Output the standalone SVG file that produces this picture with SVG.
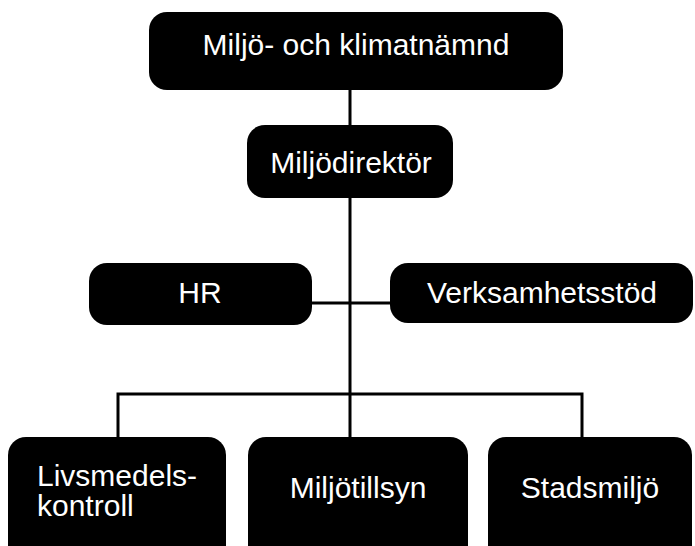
<svg xmlns="http://www.w3.org/2000/svg" width="695" height="546" viewBox="0 0 695 546">
<style>
.box{fill:#000;}
.t{fill:#fff;font-family:"Liberation Sans",Arial,sans-serif;font-size:30px;}
.m{text-anchor:middle;}
.c{stroke:#000;stroke-width:3;fill:none;}
</style>
<rect width="695" height="546" fill="#fff"/>
<g id="connectors">
<path class="c" d="M350 90 V437"/>
<path class="c" d="M312 303 H390"/>
<path class="c" d="M118 437 V394 H582 V437"/>
</g>
<g id="n1"><rect class="box" x="149" y="12" width="414" height="78" rx="18"/><text class="t m" x="356" y="55">Miljö- och klimatnämnd</text></g>
<g id="n2"><rect class="box" x="247" y="125" width="206" height="73" rx="18"/><text class="t m" x="351" y="173">Miljödirektör</text></g>
<g id="n3"><rect class="box" x="89" y="263" width="223" height="62" rx="18"/><text class="t m" x="200" y="303">HR</text></g>
<g id="n4"><rect class="box" x="390" y="263" width="303" height="60" rx="18"/><text class="t m" x="542" y="303">Verksamhetsstöd</text></g>
<g id="n5"><rect class="box" x="8" y="437" width="218" height="130" rx="18"/><text class="t" x="37" y="486">Livsmedels-</text><text class="t" x="37" y="516">kontroll</text></g>
<g id="n6"><rect class="box" x="248" y="437" width="220" height="130" rx="18"/><text class="t m" x="358" y="498">Miljötillsyn</text></g>
<g id="n7"><rect class="box" x="488" y="437" width="204" height="130" rx="18"/><text class="t m" x="590" y="498">Stadsmiljö</text></g>
</svg>
